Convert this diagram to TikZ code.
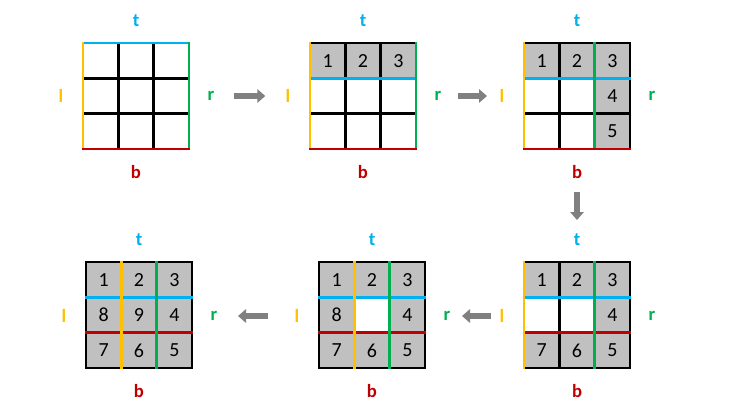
\documentclass[tikz,border=0pt]{standalone}
\usepackage{fontspec}
\setmainfont{Carlito}
\usetikzlibrary{arrows.meta}
\definecolor{edget}{RGB}{0,176,240}
\definecolor{edgel}{RGB}{255,192,0}
\definecolor{edger}{RGB}{0,176,80}
\definecolor{edgeb}{RGB}{192,0,0}
\definecolor{cellgray}{RGB}{192,192,192}
\definecolor{arrowgray}{RGB}{128,128,128}

\begin{document}
\begin{tikzpicture}[
  x=0.75pt, y=-0.75pt,
  lbl/.style={font=\fontsize{14}{14}\selectfont\bfseries, inner sep=0pt},
  num/.style={font=\fontsize{15}{15}\selectfont, inner sep=0pt},
  gline/.style={line width=1.9pt, line cap=rect},
  flow/.style={line width=5pt, draw=arrowgray, -{Triangle[length=6pt, width=10pt]}},
]
\useasboundingbox (0,0) rectangle (734,420);

% ===================== TOP ROW =====================
% grid 1: empty
\begin{scope}[shift={(83,43)}, x=26.5pt, y=-26.5pt]
  \draw[gline] (1,0) -- (1,3) (2,0) -- (2,3) (0,1) -- (3,1) (0,2) -- (3,2);
  \draw[gline, edget] (0,0) -- (3,0);
  \draw[gline, edgel] (0,0) -- (0,3);
  \draw[gline, edger] (3,0) -- (3,3);
  \draw[gline, edgeb] (0,3) -- (3,3);
\end{scope}
\node[lbl, edget] (t1) at (136,21)  {t};
\node[lbl, edgeb] (b1) at (136,172) {b};
\node[lbl, edgel] (l1) at (61,96)   {l};
\node[lbl, edger] (r1) at (211,96)  {r};

% grid 2: top row done
\begin{scope}[shift={(310,43)}, x=26.5pt, y=-26.5pt]
  \fill[cellgray] (0,0) rectangle (3,1);
  \draw[gline] (0,0) -- (3,0) (1,0) -- (1,3) (2,0) -- (2,3) (0,2) -- (3,2);
  \draw[gline, edget] (0,1) -- (3,1);
  \draw[gline, edgel] (0,0) -- (0,3);
  \draw[gline, edger] (3,0) -- (3,3);
  \draw[gline, edgeb] (0,3) -- (3,3);
  \node[num] (g2n1) at (0.5,0.5) {1};
  \node[num] (g2n2) at (1.5,0.5) {2};
  \node[num] (g2n3) at (2.5,0.5) {3};
\end{scope}
\node[lbl, edget] (t2) at (363,21)  {t};
\node[lbl, edgeb] (b2) at (363,172) {b};
\node[lbl, edgel] (l2) at (288,96)  {l};
\node[lbl, edger] (r2) at (438,96)  {r};

% grid 3: right column done
\begin{scope}[shift={(524,43)}, x=26.5pt, y=-26.5pt]
  \fill[cellgray] (0,0) rectangle (3,1) (2,1) rectangle (3,3);
  \draw[gline] (0,0) -- (3,0) (3,0) -- (3,3) (1,0) -- (1,3) (0,2) -- (3,2);
  \draw[gline, edget] (0,1) -- (3,1);
  \draw[gline, edgel] (0,0) -- (0,3);
  \draw[gline, edger] (2,0) -- (2,3);
  \draw[gline, edgeb] (0,3) -- (3,3);
  \node[num] (g3n1) at (0.5,0.5) {1};
  \node[num] (g3n2) at (1.5,0.5) {2};
  \node[num] (g3n3) at (2.5,0.5) {3};
  \node[num] (g3n4) at (2.5,1.5) {4};
  \node[num] (g3n5) at (2.5,2.5) {5};
\end{scope}
\node[lbl, edget] (t3) at (577,21)  {t};
\node[lbl, edgeb] (b3) at (577,172) {b};
\node[lbl, edgel] (l3) at (502,96)  {l};
\node[lbl, edger] (r3) at (652,96)  {r};

% ===================== BOTTOM ROW =====================
% grid 4: bottom row done
\begin{scope}[shift={(524,262)}, x=26.5pt, y=-26.5pt]
  \fill[cellgray] (0,0) rectangle (3,1) (2,1) rectangle (3,2) (0,2) rectangle (3,3);
  \draw[gline] (0,0) -- (3,0) -- (3,3) -- (0,3) (1,0) -- (1,3);
  \draw[gline, edget] (0,1) -- (3,1);
  \draw[gline, edgeb] (0,2) -- (3,2);
  \draw[gline, edgel] (0,0) -- (0,3);
  \draw[gline, edger] (2,0) -- (2,3);
  \node[num] (g4n1) at (0.5,0.5) {1};
  \node[num] (g4n2) at (1.5,0.5) {2};
  \node[num] (g4n3) at (2.5,0.5) {3};
  \node[num] (g4n4) at (2.5,1.5) {4};
  \node[num] (g4n5) at (2.5,2.5) {5};
  \node[num] (g4n6) at (1.5,2.5) {6};
  \node[num] (g4n7) at (0.5,2.5) {7};
\end{scope}
\node[lbl, edget] (t4) at (577,240) {t};
\node[lbl, edgeb] (b4) at (577,391) {b};
\node[lbl, edgel] (l4) at (502,316) {l};
\node[lbl, edger] (r4) at (652,316) {r};

% grid 5: left column done
\begin{scope}[shift={(319,262)}, x=26.5pt, y=-26.5pt]
  \fill[cellgray] (0,0) rectangle (3,3);
  \fill[white] (1,1) rectangle (2,2);
  \draw[gline] (0,0) rectangle (3,3);
  \draw[gline, edget] (0,1) -- (3,1);
  \draw[gline, edgeb] (0,2) -- (3,2);
  \draw[gline, edgel] (1,0) -- (1,3);
  \draw[gline, edger] (2,0) -- (2,3);
  \node[num] (g5n1) at (0.5,0.5) {1};
  \node[num] (g5n2) at (1.5,0.5) {2};
  \node[num] (g5n3) at (2.5,0.5) {3};
  \node[num] (g5n4) at (2.5,1.5) {4};
  \node[num] (g5n5) at (2.5,2.5) {5};
  \node[num] (g5n6) at (1.5,2.5) {6};
  \node[num] (g5n7) at (0.5,2.5) {7};
  \node[num] (g5n8) at (0.5,1.5) {8};
\end{scope}
\node[lbl, edget] (t5) at (372,240) {t};
\node[lbl, edgeb] (b5) at (372,391) {b};
\node[lbl, edgel] (l5) at (297,316) {l};
\node[lbl, edger] (r5) at (447,316) {r};

% grid 6: all done
\begin{scope}[shift={(86,262)}, x=26.5pt, y=-26.5pt]
  \fill[cellgray] (0,0) rectangle (3,3);
  \draw[gline] (0,0) rectangle (3,3);
  \draw[gline, edget] (0,1) -- (3,1);
  \draw[gline, edgeb] (0,2) -- (3,2);
  \draw[gline, edgel] (1,0) -- (1,3);
  \draw[gline, edger] (2,0) -- (2,3);
  \node[num] (g6n1) at (0.5,0.5) {1};
  \node[num] (g6n2) at (1.5,0.5) {2};
  \node[num] (g6n3) at (2.5,0.5) {3};
  \node[num] (g6n4) at (2.5,1.5) {4};
  \node[num] (g6n5) at (2.5,2.5) {5};
  \node[num] (g6n6) at (1.5,2.5) {6};
  \node[num] (g6n7) at (0.5,2.5) {7};
  \node[num] (g6n8) at (0.5,1.5) {8};
  \node[num] (g6n9) at (1.5,1.5) {9};
\end{scope}
\node[lbl, edget] (t6) at (139,240) {t};
\node[lbl, edgeb] (b6) at (139,391) {b};
\node[lbl, edgel] (l6) at (64,316)  {l};
\node[lbl, edger] (r6) at (214,316) {r};

% step arrows
\draw[flow, shorten <=17pt, shorten >=17pt]       (r1.center) -- (l2.center);
\draw[flow, shorten <=15pt, shorten >=11.25pt]    (r2.center) -- (l3.center);
\draw[flow, shorten <=15pt, shorten >=15pt]       (b3.center) -- (t4.center);
\draw[flow, shorten <=8.25pt, shorten >=11.25pt]  (l4.center) -- (r5.center);
\draw[flow, shorten <=21.75pt, shorten >=18pt]    (l5.center) -- (r6.center);

\end{tikzpicture}
\end{document}
